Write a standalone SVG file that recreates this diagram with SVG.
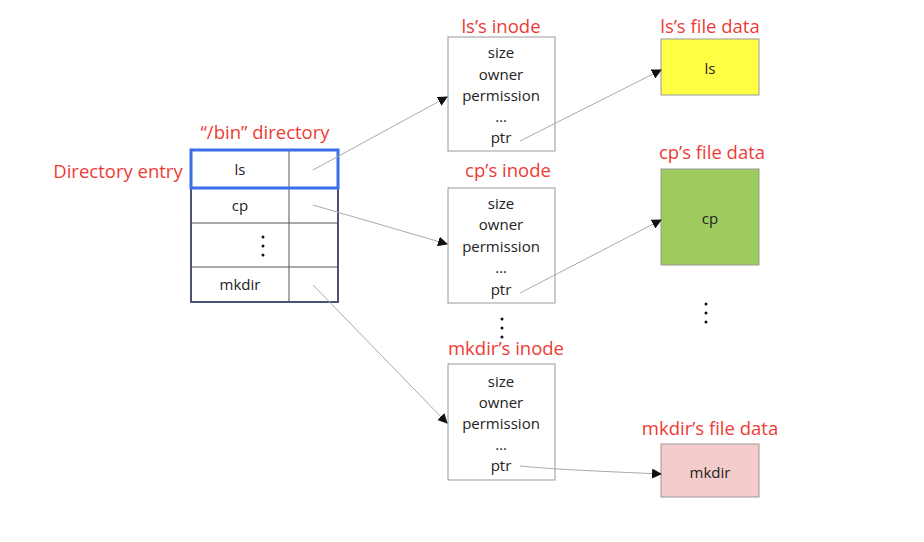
<svg xmlns="http://www.w3.org/2000/svg" width="924" height="542" viewBox="0 0 924 542">
<defs>
<marker id="ah" markerWidth="10" markerHeight="10" refX="9" refY="5" orient="auto" markerUnits="userSpaceOnUse"><path d="M0,0 L10,5 L0,10 z" fill="#111"/></marker>
<style>
text{font-family:"Open Sans","Lato","Liberation Sans",sans-serif}
.t{fill:#ee3b36;font-size:18.5px;text-anchor:middle}
.b{fill:#222;font-size:15px;text-anchor:middle}
.box{fill:#fff;stroke:#999;stroke-width:1}
.con{fill:none;stroke:#aaa;stroke-width:1;marker-end:url(#ah)}
.dot{fill:#111}
</style>
</defs>
<rect width="924" height="542" fill="#fff"/>
<g id="directory">
<text class="t" x="265" y="139">“/bin” directory</text>
<text class="t" x="118" y="178">Directory entry</text>
<rect x="191" y="150" width="147" height="152" fill="#fff" stroke="#4a5470" stroke-width="2"/>
<line x1="191" y1="223" x2="338" y2="223" stroke="#555" stroke-width="1"/>
<line x1="191" y1="267" x2="338" y2="267" stroke="#555" stroke-width="1"/>
<line x1="289" y1="150" x2="289" y2="302" stroke="#555" stroke-width="1"/>
<rect x="191" y="150" width="147" height="38" fill="none" stroke="#3a6fe8" stroke-width="3"/>
<text class="b" x="240" y="175">ls</text>
<text class="b" x="240" y="211">cp</text>
<circle class="dot" cx="263" cy="237" r="1.5"/><circle class="dot" cx="263" cy="246" r="1.5"/><circle class="dot" cx="263" cy="255" r="1.5"/>
<text class="b" x="240" y="290">mkdir</text>
</g>
<g id="ls-inode">
<text class="t" x="501" y="33">ls’s inode</text>
<rect class="box" x="448" y="37" width="107" height="114"/>
<text class="b" x="501" y="58">size</text>
<text class="b" x="501" y="80">owner</text>
<text class="b" x="501" y="101">permission</text>
<text class="b" x="501" y="122">…</text>
<text class="b" x="501" y="143">ptr</text>
</g>
<g id="cp-inode">
<text class="t" x="508" y="177">cp’s inode</text>
<rect class="box" x="448" y="188" width="107" height="115"/>
<text class="b" x="501" y="209">size</text>
<text class="b" x="501" y="230">owner</text>
<text class="b" x="501" y="252">permission</text>
<text class="b" x="501" y="273">…</text>
<text class="b" x="501" y="295">ptr</text>
</g>
<g id="inode-dots">
<circle class="dot" cx="502" cy="319" r="1.5"/><circle class="dot" cx="502" cy="328" r="1.5"/><circle class="dot" cx="502" cy="337" r="1.5"/>
</g>
<g id="mkdir-inode">
<text class="t" x="506" y="355">mkdir’s inode</text>
<rect class="box" x="448" y="364" width="107" height="116"/>
<text class="b" x="501" y="387">size</text>
<text class="b" x="501" y="408">owner</text>
<text class="b" x="501" y="429">permission</text>
<text class="b" x="501" y="450">…</text>
<text class="b" x="501" y="471">ptr</text>
</g>
<g id="ls-data">
<text class="t" x="710" y="33">ls’s file data</text>
<rect x="661" y="39" width="98" height="56" fill="#ffff44" stroke="#999"/>
<text class="b" x="710" y="74">ls</text>
</g>
<g id="cp-data">
<text class="t" x="712" y="159">cp’s file data</text>
<rect x="661" y="169" width="98" height="96" fill="#9ecb5e" stroke="#999"/>
<text class="b" x="710" y="224">cp</text>
</g>
<g id="data-dots">
<circle class="dot" cx="706" cy="304" r="1.5"/><circle class="dot" cx="706" cy="313" r="1.5"/><circle class="dot" cx="706" cy="322" r="1.5"/>
</g>
<g id="mkdir-data">
<text class="t" x="710" y="435">mkdir’s file data</text>
<rect x="661" y="444" width="98" height="53" fill="#f5cccc" stroke="#999"/>
<text class="b" x="710" y="478">mkdir</text>
</g>
<g id="connectors">
<line class="con" x1="313" y1="170" x2="447" y2="97"/>
<line class="con" x1="313" y1="205" x2="447" y2="244"/>
<line class="con" x1="313" y1="285" x2="447" y2="423"/>
<line class="con" x1="520" y1="141" x2="661" y2="70"/>
<line class="con" x1="520" y1="293" x2="661" y2="220"/>
<path class="con" d="M520,466 C560,470 620,472 661,474"/>
</g>
</svg>
